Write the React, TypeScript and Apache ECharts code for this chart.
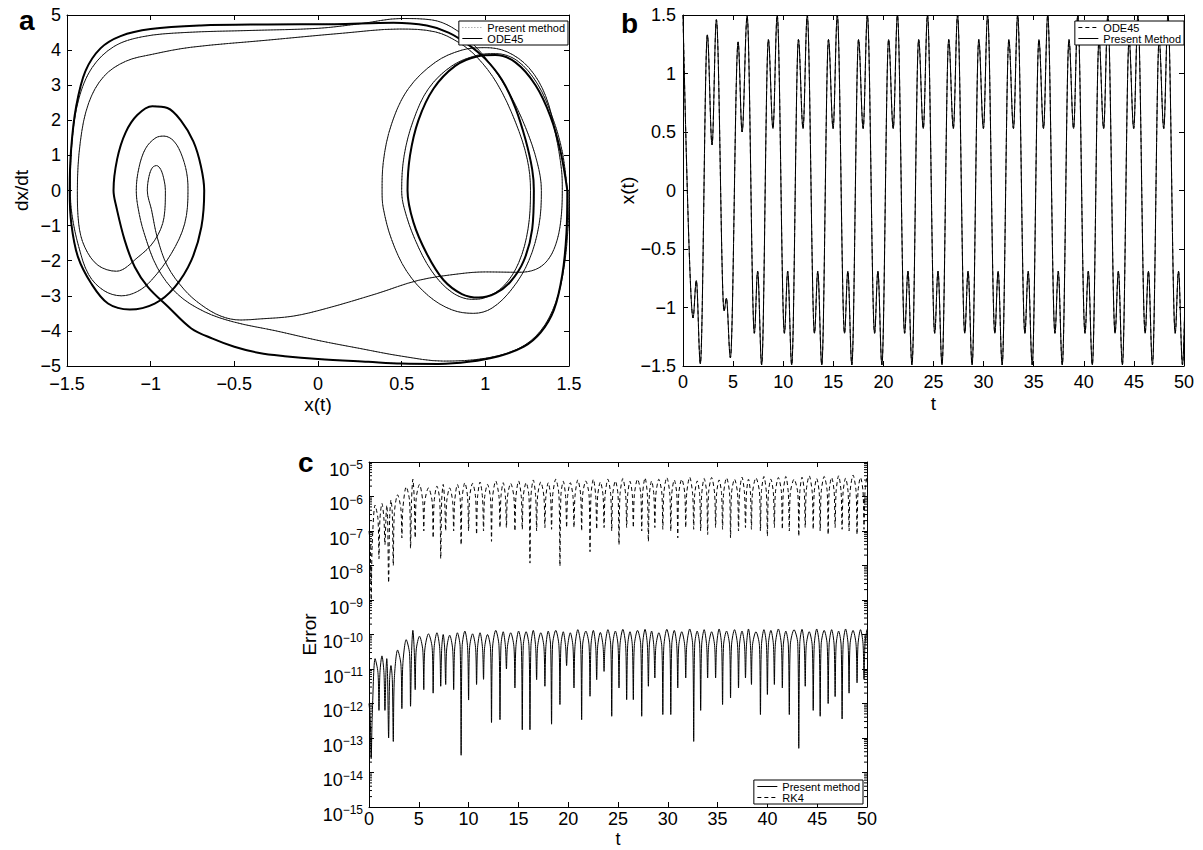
import React, { useEffect, useRef } from "react";
import * as echarts from "echarts";

const FONT = "'Liberation Sans', Arial, Helvetica, sans-serif";
const W = 1203;
const H = 850;

// ---------------- Panel a : phase portrait (x, dx/dt) ----------------
// steady-state orbit (drawn thick)
const steadyCycle: [number, number][] = [
  [1.49, 0], [1.485, -1.2], [1.46, -2.4], [1.41, -3.4], [1.33, -4.05], [1.23, -4.45], [1.08, -4.72],
  [0.9, -4.88], [0.72, -4.94], [0.5, -4.93], [0.3, -4.88], [0.0, -4.8], [-0.2, -4.72], [-0.35, -4.63],
  [-0.5, -4.45], [-0.63, -4.22], [-0.757, -3.93], [-0.896, -3.31], [-1.016, -2.75], [-1.095, -2.18],
  [-1.155, -1.42], [-1.205, -0.47], [-1.222, 0],
  [-1.2, 0.9], [-1.15, 1.65], [-1.08, 2.15], [-0.99, 2.4], [-0.9, 2.35], [-0.82, 2.0], [-0.745, 1.4],
  [-0.7, 0.7], [-0.68, 0],
  [-0.697, -1.04], [-0.757, -1.99], [-0.856, -2.75], [-0.976, -3.22], [-1.125, -3.39], [-1.255, -3.22],
  [-1.355, -2.65], [-1.434, -1.9], [-1.474, -0.95], [-1.484, 0],
  [-1.475, 1.2], [-1.445, 2.4], [-1.39, 3.4], [-1.3, 4.05], [-1.18, 4.4], [-1.0, 4.6], [-0.7, 4.7],
  [-0.3, 4.73], [0.1, 4.74], [0.45, 4.78], [0.65, 4.7], [0.78, 4.5], [0.9, 4.15], [1.0, 3.75],
  [1.1, 3.15], [1.18, 2.35], [1.24, 1.45], [1.28, 0.6], [1.29, 0],
  [1.28, -1.1], [1.23, -2.0], [1.15, -2.6], [1.06, -2.93], [0.96, -3.05], [0.86, -2.95], [0.75, -2.55],
  [0.65, -1.8], [0.57, -0.9], [0.535, 0],
  [0.55, 1.0], [0.6, 2.0], [0.69, 2.9], [0.82, 3.55], [0.95, 3.82], [1.06, 3.86], [1.18, 3.65],
  [1.3, 3.0], [1.39, 2.1], [1.45, 1.1], [1.49, 0],
];

// transient part of the trajectory (drawn thin)
const transientPath: [number, number][] = [
  [1.5, 0], [1.495, -1.0], [1.47, -2.2], [1.42, -3.2], [1.33, -4.0], [1.2, -4.5], [1.0, -4.78],
  [0.75, -4.86], [0.5, -4.72], [0.25, -4.5], [0.0, -4.27], [-0.25, -4.0], [-0.5, -3.75], [-0.68, -3.45],
  [-0.84, -2.95], [-0.96, -2.2], [-1.04, -1.2], [-1.075, -0.5], [-1.086, 0],
  [-1.07, 0.65], [-1.03, 1.2], [-0.97, 1.5], [-0.92, 1.55], [-0.86, 1.4], [-0.81, 0.95], [-0.78, 0.35],
  [-0.777, 0], [-0.797, -0.95], [-0.877, -1.8], [-0.996, -2.56], [-1.08, -2.88], [-1.175, -3.0],
  [-1.28, -2.85], [-1.37, -2.4], [-1.43, -1.6], [-1.47, -0.7], [-1.48, 0],
  [-1.47, 1.4], [-1.43, 2.6], [-1.35, 3.5], [-1.22, 4.1], [-1.05, 4.38], [-0.8, 4.5], [-0.4, 4.56],
  [0.0, 4.62], [0.25, 4.75], [0.5, 4.9], [0.68, 4.86], [0.8, 4.65], [0.92, 4.2], [1.03, 3.6],
  [1.14, 2.8], [1.24, 1.8], [1.31, 0.8], [1.335, 0],
  [1.32, -1.0], [1.26, -2.0], [1.16, -2.8], [1.04, -3.35], [0.93, -3.5], [0.8, -3.4], [0.66, -3.0],
  [0.53, -2.3], [0.44, -1.4], [0.39, -0.5], [0.383, 0], [0.39, 0.8], [0.44, 1.9], [0.54, 2.9],
  [0.7, 3.65], [0.86, 4.0], [1.0, 4.07], [1.13, 3.95], [1.26, 3.5], [1.36, 2.7], [1.42, 1.6],
  [1.455, 0.6], [1.46, 0],
  [1.45, -0.9], [1.42, -1.55], [1.37, -2.0], [1.3, -2.25], [1.2, -2.33], [1.0, -2.32], [0.85, -2.37],
  [0.6, -2.56], [0.35, -2.94], [0.05, -3.36], [-0.15, -3.58], [-0.35, -3.66], [-0.46, -3.69],
  [-0.58, -3.58], [-0.7, -3.25], [-0.8, -2.82], [-0.9, -2.15], [-0.96, -1.35], [-0.995, -0.55], [-1.02, 0],
  [-1.01, 0.4], [-0.99, 0.65], [-0.965, 0.71], [-0.94, 0.6], [-0.92, 0.3], [-0.912, 0], [-0.92, -0.76],
  [-0.976, -1.42], [-1.076, -1.9], [-1.205, -2.3], [-1.315, -2.13], [-1.394, -1.61], [-1.43, -0.95],
  [-1.438, 0],
  [-1.42, 1.4], [-1.37, 2.5], [-1.28, 3.25], [-1.15, 3.68], [-0.99, 3.88], [-0.76, 4.08], [-0.31, 4.28],
  [0.145, 4.48], [0.485, 4.6], [0.7, 4.52], [0.84, 4.22], [0.95, 3.8], [1.07, 3.05], [1.18, 1.95],
  [1.25, 0.9], [1.27, 0],
  [1.255, -1.1], [1.2, -2.05], [1.11, -2.72], [1.0, -3.05], [0.92, -3.1], [0.8, -2.9], [0.68, -2.3],
  [0.58, -1.4], [0.515, -0.5], [0.5, 0], [0.515, 1.0], [0.57, 2.0], [0.66, 2.9], [0.8, 3.55],
  [0.95, 3.85], [1.06, 3.9], [1.19, 3.7], [1.31, 3.05], [1.4, 2.1], [1.46, 1.1], [1.49, 0],
];

// ---------------- Panel b : x(t) extrema (t, x) ----------------
const xExtrema: [number, number][] = [
  [0, 1.5], [1.0, -1.09], [1.33, -0.77], [1.73, -1.48], [2.43, 1.33], [2.9, 0.39], [3.33, 1.46],
  [4.1, -1.03], [4.33, -0.92], [4.73, -1.43], [5.5, 1.27], [5.9, 0.5], [6.4, 1.49],
  [7.12, -1.22], [7.45, -0.69], [7.85, -1.49], [8.52, 1.29], [8.98, 0.53], [9.4, 1.5],
  [10.12, -1.22], [10.45, -0.69], [10.85, -1.49], [11.52, 1.29], [11.98, 0.53], [12.4, 1.5],
  [13.12, -1.22], [13.45, -0.69], [13.85, -1.49], [14.52, 1.29], [14.98, 0.53], [15.4, 1.5],
  [16.12, -1.22], [16.45, -0.69], [16.85, -1.49], [17.52, 1.29], [17.98, 0.53], [18.4, 1.5],
  [19.12, -1.22], [19.45, -0.69], [19.85, -1.49], [20.52, 1.29], [20.98, 0.53], [21.4, 1.5],
  [22.12, -1.22], [22.45, -0.69], [22.85, -1.49], [23.52, 1.29], [23.98, 0.53], [24.4, 1.5],
  [25.12, -1.22], [25.45, -0.69], [25.85, -1.49], [26.52, 1.29], [26.98, 0.53], [27.4, 1.5],
  [28.12, -1.22], [28.45, -0.69], [28.85, -1.49], [29.52, 1.29], [29.98, 0.53], [30.4, 1.5],
  [31.12, -1.22], [31.45, -0.69], [31.85, -1.49], [32.52, 1.29], [32.98, 0.53], [33.4, 1.5],
  [34.12, -1.22], [34.45, -0.69], [34.85, -1.49], [35.52, 1.29], [35.98, 0.53], [36.4, 1.5],
  [37.12, -1.22], [37.45, -0.69], [37.85, -1.49], [38.52, 1.29], [38.98, 0.53], [39.4, 1.5],
  [40.12, -1.22], [40.45, -0.69], [40.85, -1.49], [41.52, 1.29], [41.98, 0.53], [42.4, 1.5],
  [43.12, -1.22], [43.45, -0.69], [43.85, -1.49], [44.52, 1.29], [44.98, 0.53], [45.4, 1.5],
  [46.12, -1.22], [46.45, -0.69], [46.85, -1.49], [47.52, 1.29], [47.98, 0.53], [48.4, 1.5],
  [49.12, -1.22], [49.45, -0.69], [49.85, -1.49], [50.52, 1.29],
];

// ---------------- Panel c : error, log10 exponents ----------------
const errDipT = [
  0.22, 1.0, 1.6, 1.97, 2.44, 3.3, 4.17, 4.64, 5.5, 6.44,
  7.2, 7.7, 8.5, 9.25, 10.0, 10.8, 11.5, 12.3, 13.15, 13.8,
  14.65, 15.39, 16.16, 16.83, 17.66, 18.33, 19.17, 19.84, 20.58, 21.35,
  22.19, 22.86, 23.6, 24.37, 25.1, 25.87, 26.54, 27.38, 28.05, 28.7,
  29.5, 30.3, 31.0, 31.8, 32.6, 33.3, 34.0, 34.8, 35.5, 36.3,
  37.1, 37.8, 38.4, 39.3, 40.0, 40.7, 41.5, 42.2, 43.15, 43.8,
  44.6, 45.3, 46.1, 46.8, 47.5, 48.2, 49.0, 49.7,
];
const presentStartExp = -12.0;
const presentDipExp = [
  -13.6, -12.2, -12.2, -13.0, -13.1, -12.15, -12.08, -11.6, -11.6, -11.7,
  -11.5, -11.45, -11.6, -13.5, -11.9, -11.45, -11.3, -12.55, -12.47, -11.0,
  -11.55, -12.76, -12.76, -11.31, -11.5, -12.6, -12.03, -10.9, -11.55, -12.47,
  -11.79, -11.31, -11.07, -12.37, -11.55, -11.89, -11.89, -12.37, -11.5, -11.26,
  -12.32, -12.32, -11.55, -11.26, -13.1, -12.2, -11.26, -11.26, -12.03, -11.84,
  -11.55, -11.26, -11.45, -12.32, -11.74, -11.45, -11.55, -12.32, -13.3, -11.5,
  -12.2, -12.37, -12.0, -11.8, -12.45, -11.7, -11.4, -11.3,
];
const presentArchExp = [
  -10.7, -10.62, -10.7, -10.9, -10.45, -10.15, -9.88, -10.05, -9.98, -9.95,
  -10.0, -10.02, -9.95, -9.9, -9.98, -9.95, -10.0, -9.88, -9.92, -9.95,
  -9.9, -9.92, -9.88, -9.95, -9.9, -9.88, -9.92, -9.95, -9.86, -9.9,
  -9.88, -9.94, -9.86, -9.9, -9.85, -9.92, -9.88, -9.85, -9.9, -9.95,
  -9.85, -9.88, -9.92, -9.84, -9.9, -9.86, -9.92, -9.84, -9.9, -9.86,
  -9.9, -9.84, -9.92, -9.86, -9.88, -9.84, -9.9, -9.86, -9.85, -9.92,
  -9.84, -9.88, -9.86, -9.9, -9.84, -9.88, -9.86, -9.85,
];
const rk4StartExp = -7.0;
const rk4DipExp = [
  -9.0, -7.8, -7.4, -8.5, -8.0, -7.2, -7.5, -7.2, -7.0, -7.2,
  -7.8, -7.0, -7.0, -7.4, -7.0, -7.1, -7.0, -7.3, -6.9, -6.9,
  -7.0, -6.95, -7.93, -7.0, -6.9, -6.95, -8.02, -6.9, -6.9, -7.0,
  -7.6, -6.95, -6.9, -7.0, -7.4, -6.9, -6.9, -7.0, -7.3, -6.9,
  -6.95, -7.0, -7.2, -6.9, -6.95, -7.0, -7.1, -6.9, -6.95, -7.2,
  -7.0, -6.9, -6.95, -7.0, -7.15, -6.9, -6.95, -7.0, -7.15, -6.9,
  -6.95, -7.0, -7.1, -6.9, -6.95, -7.0, -7.1, -6.95,
];
const rk4ArchExp = [
  -6.25, -6.2, -6.25, -6.1, -5.95, -5.72, -5.5, -5.65, -5.75, -5.7,
  -5.65, -5.75, -5.65, -5.6, -5.62, -5.58, -5.65, -5.55, -5.6, -5.62,
  -5.55, -5.6, -5.52, -5.58, -5.6, -5.5, -5.56, -5.6, -5.52, -5.55,
  -5.5, -5.58, -5.5, -5.55, -5.48, -5.56, -5.5, -5.46, -5.55, -5.5,
  -5.45, -5.52, -5.5, -5.44, -5.55, -5.48, -5.45, -5.52, -5.46, -5.5,
  -5.44, -5.5, -5.46, -5.42, -5.5, -5.45, -5.42, -5.5, -5.44, -5.4,
  -5.48, -5.42, -5.45, -5.4, -5.47, -5.38, -5.45, -5.4,
];
const logDecades = [-15, -14, -13, -12, -11, -10, -9, -8, -7, -6];
const minorMultipliers = [2, 3, 4, 5, 6, 7, 8, 9];

// ---------------- helpers ----------------
const minus = (v: number) => String(v).replace("-", "\u2212");

function buildError(startExp: number, dipT: number[], dipExp: number[], archExp: number[]) {
  const pts: [number, number][] = [[0, startExp]];
  for (let i = 0; i < dipT.length; i++) {
    const t = dipT[i];
    const before = i === 0 ? startExp : archExp[i - 1];
    const after = archExp[i];
    const shoulder = Math.min(before, after) - 0.4;
    pts.push([t - 0.1, shoulder], [t, dipExp[i]], [t + 0.1, shoulder]);
    const tNext = i + 1 < dipT.length ? dipT[i + 1] : 50.3;
    pts.push([(t + tNext) / 2, after]);
  }
  return pts;
}

const axisLine = { show: true, onZero: false, lineStyle: { color: "#000", width: 1 } };
const axisTick = { show: true, inside: true, length: 5, lineStyle: { color: "#000", width: 1 } };
const labelFont = { fontFamily: FONT, fontSize: 18, color: "#000", lineHeight: 14 };
const nameFont = { fontFamily: FONT, fontSize: 19, color: "#000", lineHeight: 16 };

function axes(isY: boolean, min: number, max: number, interval: number, name: string, nameGap: number,
  margin: number, extraLabel: any = {}, extraAxis: any = {}) {
  return [
    {
      type: "value", gridIndex: 0, position: isY ? "left" : "bottom", min, max, interval,
      name, nameLocation: "middle", nameGap, nameRotate: isY ? 90 : 0, nameTextStyle: nameFont,
      axisLine, axisTick, splitLine: { show: false },
      axisLabel: {
        ...labelFont, margin, showMinLabel: true, showMaxLabel: true, hideOverlap: false,
        formatter: (v: number) => minus(v), ...extraLabel,
      },
      ...extraAxis,
    },
    {
      type: "value", gridIndex: 0, position: isY ? "right" : "top", min, max, interval,
      axisLine, axisTick, splitLine: { show: false }, axisLabel: { show: false },
    },
  ];
}

function legend(names: string[], right: number, top: number) {
  return {
    data: names, orient: "vertical", right, top,
    backgroundColor: "#fff", borderColor: "#000", borderWidth: 1, borderRadius: 0,
    padding: [1, 3, 1, 3], itemGap: 0, itemWidth: 20, itemHeight: 10, selectedMode: false,
    itemStyle: { opacity: 0 },
    lineStyle: { width: 1 },
    textStyle: { fontFamily: FONT, fontSize: 11, color: "#000", lineHeight: 11 },
  };
}

function panelLabel(text: string, x: number, y: number) {
  return {
    type: "text", x, y, silent: true, z: 10,
    style: { text, fontFamily: FONT, fontSize: 28, fontWeight: "bold", fill: "#000", align: "left", verticalAlign: "middle" },
  };
}

const lineBase = {
  type: "line", showSymbol: false, symbol: "none", silent: true, clip: true, xAxisIndex: 0, yAxisIndex: 0,
  itemStyle: { color: "#000" },
};

function optionA() {
  return {
    animation: false,
    grid: { left: 67, top: 15, width: 502, height: 351, outerBoundsMode: "none" },
    xAxis: axes(false, -1.5, 1.5, 0.5, "x(t)", 30, 11),
    yAxis: axes(true, -5, 5, 1, "dx/dt", 38, 6),
    legend: legend(["Present method", "ODE45"], W - 568, 21),
    graphic: [panelLabel("a", 19, 20)],
    series: [
      { ...lineBase, name: "Present method", data: transientPath, smooth: 0.35, z: 1,
        itemStyle: { color: "#888" }, lineStyle: { color: "#888", width: 1, type: [1, 2] } },
      { ...lineBase, name: "Present method", data: steadyCycle, smooth: 0.35, z: 1,
        itemStyle: { color: "#888" }, lineStyle: { color: "#888", width: 1, type: [1, 2] } },
      { ...lineBase, name: "ODE45", data: transientPath, smooth: 0.35, z: 3,
        lineStyle: { color: "#000", width: 0.9 } },
      { ...lineBase, name: "ODE45", data: steadyCycle, smooth: 0.35, z: 3,
        lineStyle: { color: "#000", width: 2 } },
    ],
  };
}

function optionB() {
  return {
    animation: false,
    grid: { left: 683, top: 15, width: 501, height: 351, outerBoundsMode: "none" },
    xAxis: axes(false, 0, 50, 5, "t", 29, 9),
    yAxis: axes(true, -1.5, 1.5, 0.5, "x(t)", 46, 7),
    legend: legend(["ODE45", "Present Method"], W - 1184, 21),
    graphic: [panelLabel("b", 621, 23)],
    series: [
      { ...lineBase, name: "ODE45", data: xExtrema, smooth: 0.36, smoothMonotone: "x", z: 2,
        lineStyle: { color: "#000", width: 1, type: [4, 3] } },
      { ...lineBase, name: "Present Method", data: xExtrema, smooth: 0.36, smoothMonotone: "x", z: 3,
        lineStyle: { color: "#000", width: 1 } },
    ],
  };
}

function optionC() {
  const minorTicks: [number, number][] = [];
  logDecades.forEach((n) => minorMultipliers.forEach((k) => minorTicks.push([0, n + Math.log10(k)])));
  const yAx = axes(true, -15, -5, 1, "Error", 52, 6, {
    formatter: (v: number) => `{b|10}{s|${minus(v)}}`,
    padding: [8, 0, 0, 0],
    rich: {
      b: { fontFamily: FONT, fontSize: 18, color: "#000", padding: [7, 0, 0, 0] },
      s: { fontFamily: FONT, fontSize: 12, color: "#000", verticalAlign: "top" },
    },
  });
  return {
    animation: false,
    grid: { left: 369, top: 462, width: 498, height: 345, outerBoundsMode: "none" },
    xAxis: axes(false, 0, 50, 5, "t", 24, 5, {}, {
      nameMoveOverlap: false,
      nameTextStyle: { fontFamily: FONT, fontSize: 18, color: "#000", lineHeight: 16 },
    }),
    yAxis: yAx,
    legend: legend(["Present method", "RK4"], W - 863, 780),
    graphic: [panelLabel("c", 298, 462)],
    series: [
      { ...lineBase, name: "Present method", data: buildError(presentStartExp, errDipT, presentDipExp, presentArchExp),
        smooth: 0.3, z: 3, lineStyle: { color: "#000", width: 1 } },
      { ...lineBase, name: "RK4", data: buildError(rk4StartExp, errDipT, rk4DipExp, rk4ArchExp),
        smooth: 0.3, z: 3, lineStyle: { color: "#000", width: 1, type: [4, 3] } },
      {
        type: "custom", silent: true, z: 5, xAxisIndex: 0, yAxisIndex: 0, data: minorTicks,
        renderItem: (_p: any, api: any) => {
          const a = api.coord([0, api.value(1)]);
          const b = api.coord([50, api.value(1)]);
          return {
            type: "group",
            children: [
              { type: "line", shape: { x1: a[0], y1: a[1], x2: a[0] + 3, y2: a[1] }, style: { stroke: "#000", lineWidth: 1 } },
              { type: "line", shape: { x1: b[0] - 3, y1: b[1], x2: b[0], y2: b[1] }, style: { stroke: "#000", lineWidth: 1 } },
            ],
          };
        },
      },
    ],
  };
}

export default function App() {
  const ra = useRef<HTMLDivElement>(null);
  const rb = useRef<HTMLDivElement>(null);
  const rc = useRef<HTMLDivElement>(null);
  useEffect(() => {
    const list: echarts.ECharts[] = [];
    const specs: [HTMLDivElement | null, any][] = [
      [ra.current, optionA()],
      [rb.current, optionB()],
      [rc.current, optionC()],
    ];
    for (const [el, opt] of specs) {
      if (!el) continue;
      const c = echarts.init(el, null, { renderer: "svg" });
      c.setOption(opt);
      list.push(c);
    }
    return () => list.forEach((c) => c.dispose());
  }, []);
  const layer: React.CSSProperties = { position: "absolute", left: 0, top: 0, width: W, height: H };
  return (
    <div style={{ position: "absolute", left: 0, top: 0, width: W, height: H, background: "#fff" }}>
      <div ref={ra} style={layer} />
      <div ref={rb} style={layer} />
      <div ref={rc} style={layer} />
    </div>
  );
}
